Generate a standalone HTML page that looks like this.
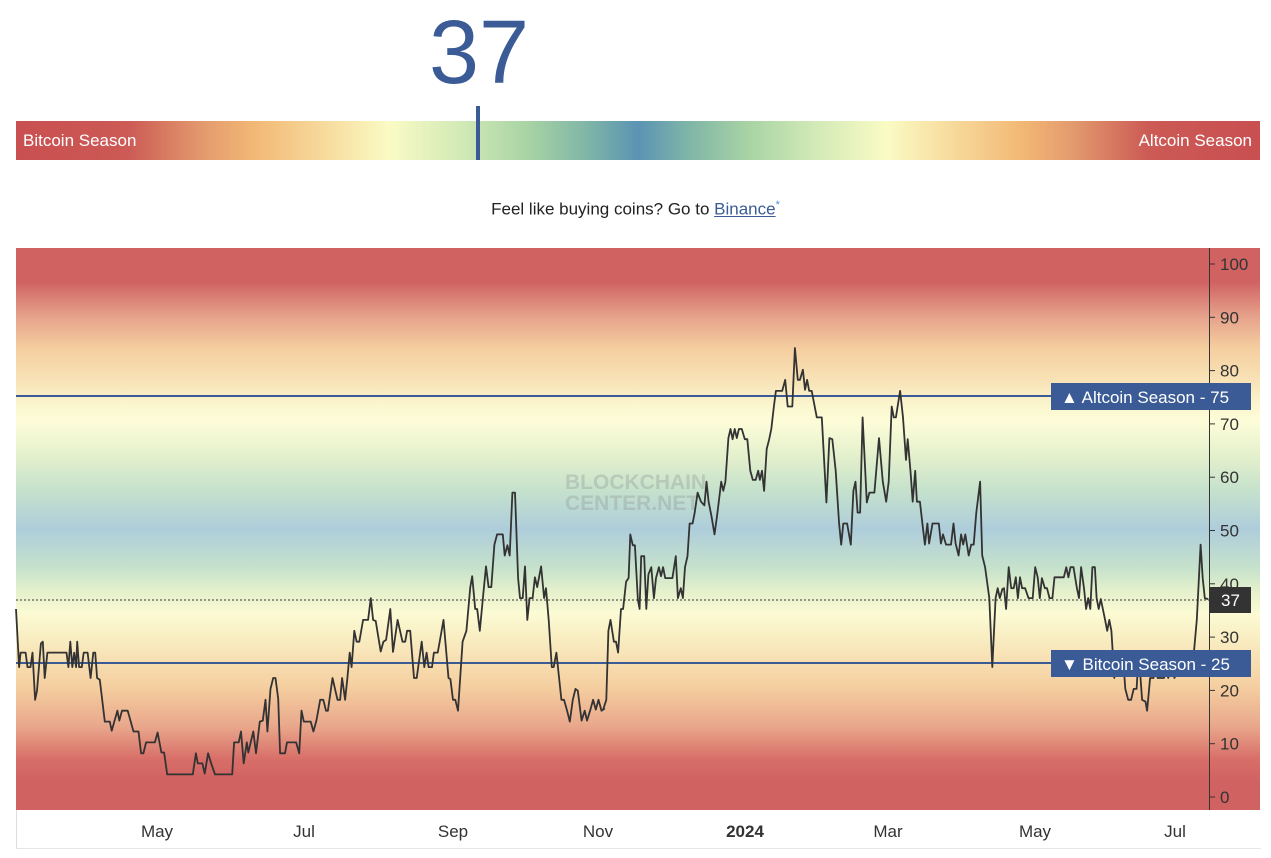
<!DOCTYPE html>
<html><head><meta charset="utf-8"><style>
html,body{margin:0;padding:0;background:#fff;width:1271px;height:858px;overflow:hidden;font-family:"Liberation Sans",sans-serif;}
.abs{position:absolute}
</style></head><body>
<div class="abs" style="left:429px;top:-2px;font-size:90px;color:#3b5b96;line-height:110px;">37</div>
<div class="abs" style="left:16px;top:121px;width:1244px;height:39px;background:linear-gradient(to right,#c94f50 0%,#cc5a55 9%,#e39a6e 15%,#f2b774 19%,#f7dc9e 25%,#fafbc4 30%,#d0e9b6 36%,#a9d4a4 41%,#7fb5a8 46%,#5b93b3 50%,#7fb5a8 54%,#a9d4a4 59%,#d0e9b6 64%,#fafbc4 70%,#f7dc9e 75%,#f2b774 81%,#e39a6e 85%,#cc5a55 91%,#c94f50 100%);"></div>
<div class="abs" style="left:23px;top:131px;color:#fff;font-size:17px;">Bitcoin Season</div>
<div class="abs" style="right:19px;top:131px;color:#fff;font-size:17px;">Altcoin Season</div>
<div class="abs" style="left:476px;top:106px;width:4px;height:54px;background:#3b5b96;"></div>
<div class="abs" style="left:0;width:1271px;top:199px;text-align:center;font-size:17px;color:#222;">Feel like buying coins? Go to <span style="color:#3b5b96;text-decoration:underline;">Binance</span><sup style="color:#4a90d9;font-size:11px;">*</sup></div>

<div class="abs" style="left:16px;top:248px;width:1244px;height:562px;background:linear-gradient(to bottom,#d06262 0%,#d06262 6%,#e5a08a 12%,#f5cfa0 18%,#f8e4b8 24%,#fbf6cf 28%,#fcfdd8 31%,#e4f0cc 37%,#c6e2cc 43%,#aecddb 50%,#c6e2cc 57%,#e4f0cc 61%,#fcfbd4 65%,#f8e8bc 71%,#f5cfa0 78%,#e9a88c 85%,#d86e68 91%,#d06262 95%,#d06262 100%);"></div>
<div class="abs" style="left:16px;top:810px;width:1244px;height:38px;border-left:1px solid #ddd;border-bottom:1px solid #e6e6e6;"></div>
<div class="abs" style="left:565px;top:472px;color:rgba(140,150,150,0.35);font-size:21px;font-weight:bold;line-height:21px;">BLOCKCHAIN<br>CENTER.NET</div>

<svg class="abs" style="left:0;top:0" width="1271" height="858">
<line x1="16" y1="396" x2="1210" y2="396" stroke="#3b5b96" stroke-width="2"/>
<line x1="16" y1="663" x2="1210" y2="663" stroke="#3b5b96" stroke-width="2"/>
<line x1="16" y1="600" x2="1210" y2="600" stroke="#333" stroke-width="1" stroke-dasharray="2,2"/>
<polyline id="pl" fill="none" stroke="#333" stroke-width="1.8" stroke-linejoin="round"/>
<line x1="1209.5" y1="248" x2="1209.5" y2="810" stroke="#333" stroke-width="1"/>
<g id="ticks" stroke="#333"></g>
<g font-family="Liberation Sans, sans-serif" font-size="17" fill="#333" id="ylab"></g>
<rect x="1051" y="383" width="200" height="27" fill="#3b5b96"/>
<text x="1061" y="403" font-family="Liberation Sans, sans-serif" font-size="17" fill="#fff">▲ Altcoin Season  -  75</text>
<rect x="1051" y="650" width="200" height="27" fill="#3b5b96"/>
<text x="1061" y="670" font-family="Liberation Sans, sans-serif" font-size="17" fill="#fff">▼ Bitcoin Season  -  25</text>
<rect x="1210" y="587" width="41" height="26" fill="#333"/>
<text x="1221" y="606" font-family="Liberation Sans, sans-serif" font-size="17" fill="#fff">37</text>
<g font-family="Liberation Sans, sans-serif" font-size="17" fill="#333" text-anchor="middle">
<text x="157" y="837">May</text><text x="304" y="837">Jul</text><text x="453" y="837">Sep</text><text x="598" y="837">Nov</text><text x="745" y="837" font-weight="bold">2024</text><text x="888" y="837">Mar</text><text x="1035" y="837">May</text><text x="1175" y="837">Jul</text>
</g>
</svg>
<script>
var z1=[[0,1015],[8,1175],[12,1135],[25,1135],[30,1175],[38,1175],[43,1135],[50,1265],[55,1240],[65,1110],[70,1105],[75,1205],[82,1135],[132,1135],[137,1175],[142,1105],[147,1175],[152,1135],[157,1175],[160,1105],[165,1175],[172,1175],[177,1135],[187,1135],[195,1205],[202,1135],[207,1135],[212,1205],[219,1210],[232,1325],[245,1325],[250,1350],[265,1295],[270,1322],[277,1295],[292,1295],[307,1352],[320,1352],[327,1412],[333,1412],[340,1382],[363,1382],[370,1355],[380,1410],[387,1410],[395,1470],[462,1470],[470,1412],[475,1440],[487,1440],[493,1468],[502,1412],[510,1440],[520,1470],[565,1470],[570,1382],[582,1382],[588,1352],[595,1440],[603,1382],[607,1410],[620,1352],[627,1412],[637,1325],[645,1322],[652,1265],[657,1352],[665,1235],[672,1205],[678,1205],[685,1262],[690,1412],[703,1412],[708,1382],[732,1382],[740,1412],[746,1295],[752,1325],[770,1325],[777,1352],[785,1322],[795,1265],[803,1265],[810,1295],[815,1295],[827,1205],[840,1265],[847,1265],[852,1205],[860,1265],[866,1205],[872,1135],[877,1175],[884,1075],[890,1105],[897,1105],[907,1045],[920,1045],[927,985],[933,1045],[940,1048],[953,1132],[960,1105],[967,1100],[978,1015],[985,1133],[997,1045],[1010,1105],[1017,1105],[1022,1075],[1030,1075],[1040,1205],[1047,1205],[1060,1105],[1067,1175],[1073,1135],[1078,1175],[1087,1175],[1092,1135],[1102,1135],[1107,1105],[1117,1045],[1130,1205],[1135,1208],[1142,1265],[1148,1265],[1155,1295],[1167,1105],[1177,1075],[1187,955],[1192,925],[1200,1015],[1205,1015],[1212,1075],[1220,985],[1228,898],[1235,955],[1242,955],[1250,838],[1257,810],[1272,810],[1277,868],[1284,840],[1290,868],[1297,695],[1304,695],[1312,930],[1317,985],[1324,985],[1330,898],[1336,1045],[1342,985],[1350,985],[1356,928],[1362,955],[1372,898],[1380,985],[1385,958],[1392,1045],[1400,1175],[1405,1175],[1412,1135],[1425,1265],[1432,1265],[1440,1295],[1447,1325],[1455,1265],[1462,1235],[1468,1240],[1478,1322],[1486,1295],[1492,1322],[1500,1295],[1508,1265],[1515,1292],[1522,1265],[1530,1295],[1537,1290]];
var z2=[[8,1290],[15,1265],[20,1075],[25,1045],[33,1105],[38,1105],[43,1135],[50,1015],[55,1015],[62,940],[68,930],[72,810],[78,840],[83,840],[90,990],[94,1015],[98,870],[105,870],[110,1015],[115,920],[122,900],[128,985],[133,930],[140,900],[145,925],[150,900],[155,930],[172,930],[180,870],[185,985],[192,958],[197,985],[202,900],[208,870],[213,780],[220,780],[225,750],[232,695],[240,720],[248,730],[253,665],[258,720],[265,760],[272,810],[278,760],[285,695],[288,665],[293,690],[298,665],[305,545],[310,520],[315,548],[320,520],[325,545],[330,520],[337,520],[344,548],[350,548],[357,635],[363,660],[370,660],[376,635],[380,660],[385,635],[390,690],[396,575],[402,548],[407,520],[413,460],[418,415],[433,415],[440,385],[446,458],[457,458],[463,297],[470,385],[475,385],[482,357],[487,412],[492,385],[497,415],[503,415],[515,488],[527,488],[538,722],[545,545],[552,548],[560,635],[568,780],[573,838],[578,780],[587,780],[596,838],[602,690],[607,665],[612,750],[618,750],[624,488],[634,722],[640,695],[652,695],[663,545],[672,665],[680,720],[686,665],[693,458],[698,488],[703,488],[713,415],[720,488],[727,605],[731,548],[738,640],[743,720],[749,635],[753,720],[760,720],[766,780],[772,838],[778,780],[782,835],[790,780],[805,780],[810,835],[815,810],[822,838],[834,838],[840,780],[845,835],[852,868],[858,810],[863,838],[868,810],[876,868],[882,838],[888,838],[894,750],[903,665],[908,868],[915,900],[925,985],[932,1175],[940,985],[945,958],[950,985],[956,960],[960,958],[965,1015],[971,900],[977,958],[983,958],[988,928],[993,985],[998,928],[1003,958],[1010,958],[1018,985],[1028,985],[1034,900],[1040,928],[1045,985],[1050,930],[1057,958],[1062,958],[1068,985],[1075,985],[1080,928],[1102,928],[1108,900],[1113,928],[1118,900],[1125,900],[1133,958],[1138,985],[1143,900],[1150,958],[1155,1015],[1160,985],[1165,1015],[1170,900],[1176,900],[1180,985],[1185,1015],[1190,988],[1200,1045],[1205,1075],[1210,1045],[1215,1075],[1222,1205],[1228,1135],[1235,1175],[1242,1135],[1248,1235],[1255,1265],[1262,1265],[1268,1235],[1275,1235],[1280,1135],[1288,1265],[1296,1270],[1300,1295],[1307,1205],[1315,1205],[1320,1180],[1325,1205],[1340,1205],[1345,1175],[1350,1205],[1357,1175],[1365,1205],[1372,1175],[1380,1135],[1385,1175],[1390,1135],[1395,1145],[1405,1150],[1410,1150],[1418,1045],[1427,838],[1432,930],[1437,985],[1445,988]];
var pts=[];
z1.forEach(function(p){pts.push((16+p[0]/2.613).toFixed(1)+","+(240+p[1]/2.751).toFixed(1));});
z2.forEach(function(p){pts.push((600+p[0]/2.376).toFixed(1)+","+(240+p[1]/2.751).toFixed(1));});
document.getElementById('pl').setAttribute('points',pts.join(' '));
var ns="http://www.w3.org/2000/svg",t=document.getElementById('ticks'),yl=document.getElementById('ylab');
for(var v=0;v<=100;v+=10){var y=797-v*5.33;
var l=document.createElementNS(ns,'line');l.setAttribute('x1',1210);l.setAttribute('x2',1215);l.setAttribute('y1',y);l.setAttribute('y2',y);t.appendChild(l);
var tx=document.createElementNS(ns,'text');tx.setAttribute('x',1220);tx.setAttribute('y',y+6);tx.textContent=v;yl.appendChild(tx);}
</script>
</body></html>
